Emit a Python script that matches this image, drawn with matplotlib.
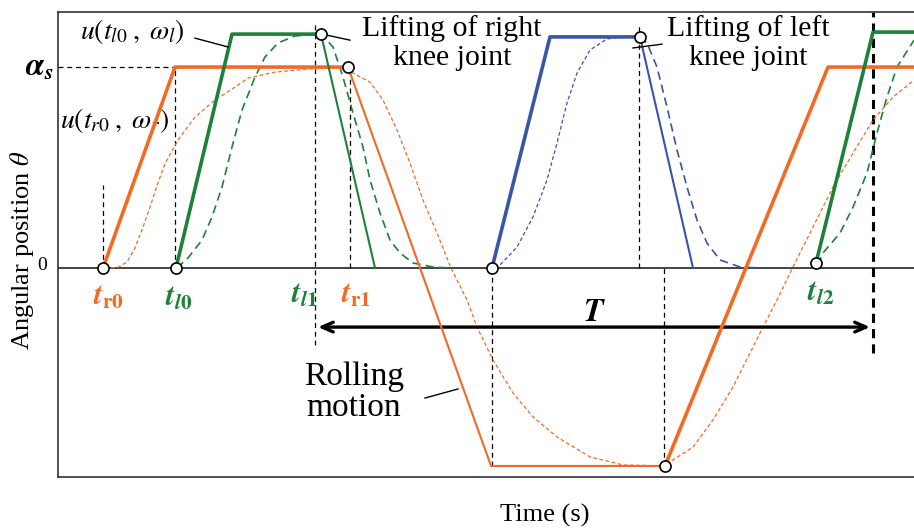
import matplotlib
matplotlib.use("Agg")
import matplotlib.pyplot as plt

plt.rcParams['font.family'] = ['Liberation Serif', 'DejaVu Serif']
plt.rcParams['mathtext.fontset'] = 'stix'

ORANGE = '#F26A24'
GREEN = '#1E8139'
BLUE = '#3A55A8'

# joint trajectories: time (arbitrary units) / angle (alpha_s = 1)
right_up_t = [103, 175, 348]
right_up_th = [0.0, 1.0, 1.0]
right_roll_t = [348, 491, 665]
right_roll_th = [1.0, -0.985, -0.985]
right_up2_t = [665, 828, 914]
right_up2_th = [-0.985, 1.0, 1.0]

left_up_t = [176, 232, 321]
left_up_th = [0.0, 1.164, 1.164]
left_down_t = [321, 375]
left_down_th = [1.164, 0.0]
left_up2_t = [816, 873, 914]
left_up2_th = [0.025, 1.174, 1.174]

lift_up_t = [492, 550, 640]
lift_up_th = [0.0, 1.15, 1.15]
lift_down_t = [640, 693]
lift_down_th = [1.15, 0.0]

# smoothed responses u(t, omega)
right_smooth_t = [105, 118, 127, 135, 142, 150, 157, 165, 178, 195, 215, 235, 248, 275,
                  308, 342, 353, 370, 383, 397, 410, 423, 437, 451, 467, 477, 493, 513,
                  533, 557, 590, 623, 665, 673, 693, 713, 733, 750, 763, 777, 793, 813,
                  833, 853, 873, 893, 914]
right_smooth_th = [0.0, 0.003, 0.03, 0.1, 0.19, 0.303, 0.41, 0.52, 0.637, 0.751, 0.836,
                   0.9, 0.945, 0.975, 0.99, 1.0, 0.97, 0.925, 0.836, 0.687, 0.522, 0.338,
                   0.174, 0.0, -0.159, -0.294, -0.458, -0.622, -0.741, -0.841, -0.94,
                   -0.98, -0.985, -0.955, -0.891, -0.756, -0.592, -0.423, -0.294, -0.159,
                   0.005, 0.204, 0.403, 0.572, 0.736, 0.851, 0.935]
left_smooth_t = [177, 188, 202, 212, 222, 232, 242, 255, 265, 278, 295, 321,
                 333, 343, 353, 363, 370, 380, 390, 400, 413, 433, 450]
left_smooth_th = [0.0, 0.05, 0.139, 0.254, 0.403, 0.602, 0.786, 0.95, 1.05, 1.12,
                  1.155, 1.164, 1.1, 0.95, 0.771, 0.602, 0.438, 0.274, 0.139, 0.075,
                  0.025, 0.005, 0.0]
left_smooth2_t = [818, 823, 840, 853, 867, 877, 887, 897, 914]
left_smooth2_th = [0.015, 0.075, 0.174, 0.303, 0.473, 0.672, 0.851, 1.0, 1.134]
lift_smooth_up_t = [495, 500, 517, 533, 547, 557, 567, 577, 590, 607, 633, 640]
lift_smooth_up_th = [0.0, 0.015, 0.104, 0.254, 0.438, 0.622, 0.821, 0.97, 1.085,
                     1.14, 1.155, 1.15]
lift_smooth_down_t = [640, 647, 657, 667, 677, 687, 697, 707, 720, 740, 760]
lift_smooth_down_th = [1.15, 1.119, 1.0, 0.801, 0.587, 0.403, 0.239, 0.124, 0.04,
                       0.005, 0.0]

key_t = [103, 176, 321, 348, 492, 640, 665, 816]
key_th = [0.0, 0.0, 1.164, 1.0, 0.0, 1.15, -0.985, 0.025]

fig = plt.figure(figsize=(9.14, 5.30), dpi=100)
ax = fig.add_axes([58 / 914, 53 / 530, 856 / 914, 465 / 530])
ax.set_xlim(58, 914)
ax.set_ylim(-1.04, 1.274)
ax.set_xticks([])
ax.set_yticks([])
ax.spines['right'].set_visible(False)
for s in ['left', 'top', 'bottom']:
    ax.spines[s].set_color('#333333')
    ax.spines[s].set_linewidth(1.2)

ax.axhline(0, color='#222222', lw=1.2, zorder=1)

# guide lines
dash = (0, (4, 3))
ax.plot([58, 175], [1.0, 1.0], color='black', lw=0.9, ls=dash, clip_on=False)
for x, y0, y1 in [(103, 0, 0.413), (175, 0, 1.0), (315, -0.383, 1.224), (350, 0, 0.985),
                  (492, -0.985, 0), (639, 0, 1.219), (664, -0.985, 0)]:
    ax.plot([x, x], [y0, y1], color='black', lw=0.9, ls=dash, zorder=2)
ax.plot([873, 873], [-0.423, 1.274], color='black', lw=2.2, ls=(0, (3, 2)), zorder=2)

# smoothed responses
ax.plot(right_smooth_t, right_smooth_th, color=ORANGE, lw=0.9, ls=(0, (3, 2)), zorder=3)
ax.plot(left_smooth_t, left_smooth_th, color=GREEN, lw=1.2, ls=(0, (5, 3)), zorder=3)
ax.plot(left_smooth2_t, left_smooth2_th, color=GREEN, lw=1.2, ls=(0, (5, 3)), zorder=3)
ax.plot(lift_smooth_up_t, lift_smooth_up_th, color=BLUE, lw=0.9, ls=(0, (3, 2)), zorder=3)
ax.plot(lift_smooth_down_t, lift_smooth_down_th, color=BLUE, lw=1.2, ls=(0, (5, 3)), zorder=3)

# trajectories
ax.plot(right_up_t, right_up_th, color=ORANGE, lw=2.6, zorder=4)
ax.plot(right_roll_t, right_roll_th, color=ORANGE, lw=1.5, zorder=4)
ax.plot(right_up2_t, right_up2_th, color=ORANGE, lw=2.6, zorder=4)
ax.plot(left_up_t, left_up_th, color=GREEN, lw=2.6, zorder=4)
ax.plot(left_down_t, left_down_th, color=GREEN, lw=1.5, zorder=4)
ax.plot(left_up2_t, left_up2_th, color=GREEN, lw=2.6, zorder=4)
ax.plot(lift_up_t, lift_up_th, color=BLUE, lw=2.6, zorder=4)
ax.plot(lift_down_t, lift_down_th, color=BLUE, lw=1.5, zorder=4)

ax.plot(key_t, key_th, 'o', ms=8, mfc='white', mec='black', mew=1.2, zorder=6)

# period arrow
ax.annotate('', xy=(318, -0.294), xytext=(870, -0.294),
            arrowprops=dict(arrowstyle='<->,head_length=0.8,head_width=0.35',
                            lw=2.4, color='black', shrinkA=0, shrinkB=0))
ax.text(594, -0.224, r'$\mathbfit{T}$', fontsize=23, ha='center', va='center')

# leader lines
for xs, ys in [([195, 228], [1.144, 1.1]), ([322, 350], [1.164, 1.134]),
               ([633, 662], [1.095, 1.114]), ([425, 458], [-0.647, -0.602])]:
    ax.plot(xs, ys, color='black', lw=1.0, zorder=5)

ax.text(80, 1.177, r'$u(t_{l0}\;,\;\omega_l)$', fontsize=20, ha='left', va='center')
ax.text(60, 0.736, r'$u(t_{r0}\;,\;\omega_r)$', fontsize=20, ha='left', va='center')
ax.text(452, 1.119, 'Lifting of right\nknee joint', fontsize=21.5, ha='center',
        va='center', linespacing=1.12)
ax.text(748, 1.119, 'Lifting of left\nknee joint', fontsize=21.5, ha='center',
        va='center', linespacing=1.12)
ax.text(354, -0.617, 'Rolling\nmotion', fontsize=24, ha='center', va='center',
        linespacing=1.02)

tsize = 22
ax.text(108, -0.144, r'$\mathbfit{t}_{\mathbf{r0}}$', fontsize=tsize, color=ORANGE,
        ha='center', va='center')
ax.text(179, -0.149, r'$\mathbfit{t}_{\mathbfit{l}\mathbf{0}}$', fontsize=tsize, color=GREEN,
        ha='center', va='center')
ax.text(304, -0.134, r'$\mathbfit{t}_{\mathbfit{l}\mathbf{1}}$', fontsize=tsize, color=GREEN,
        ha='center', va='center')
ax.text(356, -0.134, r'$\mathbfit{t}_{\mathbf{r1}}$', fontsize=tsize, color=ORANGE,
        ha='center', va='center')
ax.text(821, -0.124, r'$\mathbfit{t}_{\mathbfit{l}\mathbf{2}}$', fontsize=tsize, color=GREEN,
        ha='center', va='center')

fig.text(39 / 914, 1 - 68 / 530, r'$\mathbfit{\alpha}_{\mathbfit{s}}$', fontsize=23,
         ha='center', va='center')
fig.text(42 / 914, 1 - 265 / 530, '0', fontsize=14, ha='center', va='center')
fig.text(22 / 914, 1 - 250 / 530, r'Angular position $\theta$', fontsize=19,
         rotation=90, ha='center', va='center')
fig.text(545 / 914, 1 - 515 / 530, 'Time (s)', fontsize=19, ha='center', va='center')

fig.savefig('out.png', dpi=100)
plt.close(fig)
